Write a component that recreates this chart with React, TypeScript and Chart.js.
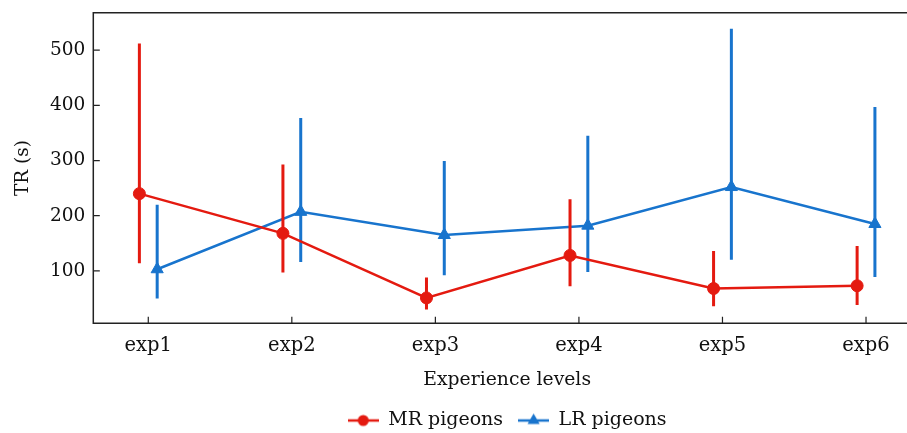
import React, { useEffect, useRef } from "react";
import { Chart, registerables } from "chart.js";

Chart.register(...registerables);

// ---- data ----
const categories = ["exp1", "exp2", "exp3", "exp4", "exp5", "exp6"];
const seriesNames = ["MR pigeons", "LR pigeons"];
const mrMean = [240, 168, 51, 128, 68, 73];
const mrLower = [114, 97, 30, 72, 36, 38];
const mrUpper = [512, 293, 88, 230, 136, 145];
const lrMean = [103, 207, 165, 182, 252, 185];
const lrLower = [50, 116, 92, 98, 120, 89];
const lrUpper = [220, 377, 299, 345, 539, 397];
const yTickValues = [100, 200, 300, 400, 500];
const xTitle = "Experience levels";
const yTitle = "TR (s)";

// ---- styles ----
const RED = "rgb(228,26,16)";
const BLUE = "rgb(24,116,205)";
const TEXT = "#111";
const FONT = "'DejaVu Serif', serif";
const DODGE = 0.062;
const CW = 929;
const CH = 440;

function legendIcon(color: string, kind: "circle" | "triangle") {
  const c = document.createElement("canvas");
  c.width = 31;
  c.height = 16;
  const ctx = c.getContext("2d")!;
  ctx.strokeStyle = color;
  ctx.lineWidth = 2.5;
  ctx.beginPath();
  ctx.moveTo(0, 8);
  ctx.lineTo(31, 8);
  ctx.stroke();
  ctx.fillStyle = color;
  ctx.beginPath();
  if (kind === "circle") {
    ctx.arc(15.5, 8, 5.5, 0, Math.PI * 2);
  } else {
    const r = 7;
    ctx.moveTo(15.5, 8 - r);
    ctx.lineTo(15.5 + r * Math.sin((2 * Math.PI) / 3), 8 + r / 2);
    ctx.lineTo(15.5 - r * Math.sin((2 * Math.PI) / 3), 8 + r / 2);
    ctx.closePath();
  }
  ctx.fill();
  return c;
}

const errorBarPlugin = {
  id: "errorBars",
  beforeDatasetDraw(chart: any, args: any) {
    const ds = chart.data.datasets[args.index];
    if (!ds.errLow) return;
    const { ctx, scales } = chart;
    ctx.save();
    ctx.strokeStyle = ds.borderColor;
    ctx.lineWidth = 3;
    ctx.lineCap = "butt";
    ctx.beginPath();
    ds.data.forEach((p: any, i: number) => {
      const px = scales.x.getPixelForValue(p.x);
      ctx.moveTo(px, scales.y.getPixelForValue(ds.errLow[i]));
      ctx.lineTo(px, scales.y.getPixelForValue(ds.errHigh[i]));
    });
    ctx.stroke();
    ctx.restore();
  },
};

const framePlugin = {
  id: "frame",
  beforeDatasetsDraw(chart: any) {
    const { ctx, chartArea, scales } = chart;
    const { left, right, top, bottom } = chartArea;
    ctx.save();
    ctx.strokeStyle = "#222";
    ctx.lineWidth = 1.5;
    ctx.beginPath();
    ctx.moveTo(right + 10, top);
    ctx.lineTo(left, top);
    ctx.lineTo(left, bottom);
    ctx.lineTo(right + 10, bottom);
    ctx.stroke();
    ctx.lineWidth = 1.2;
    ctx.beginPath();
    scales.x.ticks.forEach((t: any) => {
      const px = scales.x.getPixelForValue(t.value);
      ctx.moveTo(px, bottom);
      ctx.lineTo(px, bottom - 6.5);
    });
    scales.y.ticks.forEach((t: any) => {
      const py = scales.y.getPixelForValue(t.value);
      ctx.moveTo(left, py);
      ctx.lineTo(left + 6.5, py);
    });
    ctx.stroke();
    ctx.restore();
  },
};

export default function App() {
  const ref = useRef<HTMLCanvasElement | null>(null);

  useEffect(() => {
    document.body.style.margin = "0";
    const canvas = ref.current!;
    const icons = [legendIcon(RED, "circle"), legendIcon(BLUE, "triangle")];

    const chart = new Chart(canvas, {
      type: "line",
      data: {
        datasets: [
          {
            label: seriesNames[0],
            data: mrMean.map((v, i) => ({ x: i - DODGE, y: v })),
            errLow: mrLower,
            errHigh: mrUpper,
            borderColor: RED,
            backgroundColor: RED,
            borderWidth: 2.5,
            pointStyle: "circle",
            pointRadius: 6,
            pointBorderWidth: 1,
            tension: 0,
          } as any,
          {
            label: seriesNames[1],
            data: lrMean.map((v, i) => ({ x: i + DODGE, y: v })),
            errLow: lrLower,
            errHigh: lrUpper,
            borderColor: BLUE,
            backgroundColor: BLUE,
            borderWidth: 2.5,
            pointStyle: "triangle",
            pointRadius: 7,
            pointBorderWidth: 1,
            tension: 0,
          } as any,
        ],
      },
      options: {
        responsive: false,
        animation: false,
        devicePixelRatio: 1,
        layout: { padding: { top: 12.7, right: 4, left: 0, bottom: 0 } },
        plugins: {
          legend: {
            position: "bottom",
            fullSize: false,
            labels: {
              usePointStyle: true,
              pointStyleWidth: 31,
              padding: 15,
              color: TEXT,
              font: { family: FONT, size: 19 },
              generateLabels: (c: any) =>
                Chart.defaults.plugins.legend.labels
                  .generateLabels(c)
                  .map((it: any) => ({ ...it, pointStyle: icons[it.datasetIndex] })),
            },
          },
          tooltip: { enabled: false },
        },
        scales: {
          x: {
            type: "linear",
            min: -0.383,
            max: 5.383,
            grid: { display: false, drawTicks: false },
            border: { display: false },
            afterBuildTicks: (s: any) => {
              s.ticks = categories.map((_, i) => ({ value: i }));
            },
            afterFit: (s: any) => {
              s.height = 72.7;
            },
            ticks: {
              padding: 11,
              color: TEXT,
              autoSkip: false,
              maxRotation: 0,
              font: { family: FONT, size: 19.5 },
              callback: (v: any) => categories[v] ?? "",
            },
            title: {
              display: true,
              text: xTitle,
              color: TEXT,
              font: { family: FONT, size: 18.8, lineHeight: 1.2 },
              padding: { top: 0, bottom: 5 },
            },
          },
          y: {
            type: "linear",
            min: 5,
            max: 568,
            grid: { display: false, drawTicks: false },
            border: { display: false },
            afterBuildTicks: (s: any) => {
              s.ticks = yTickValues.map((v) => ({ value: v }));
            },
            afterFit: (s: any) => {
              s.width = 93.3;
            },
            ticks: {
              padding: 8,
              color: TEXT,
              font: { family: FONT, size: 18.5, lineHeight: 0.5 },
            },
            title: {
              display: true,
              text: yTitle,
              color: TEXT,
              font: { family: FONT, size: 18.5, lineHeight: 1.2 },
              padding: { top: 12, bottom: 0 },
            },
          },
        },
      } as any,
      plugins: [framePlugin, errorBarPlugin],
    });
    return () => chart.destroy();
  }, []);

  return (
    <div style={{ width: 907, height: 433, overflow: "hidden", position: "relative" }}>
      <canvas
        ref={ref}
        width={CW}
        height={CH}
        style={{ display: "block", width: CW, height: CH }}
      />
    </div>
  );
}
